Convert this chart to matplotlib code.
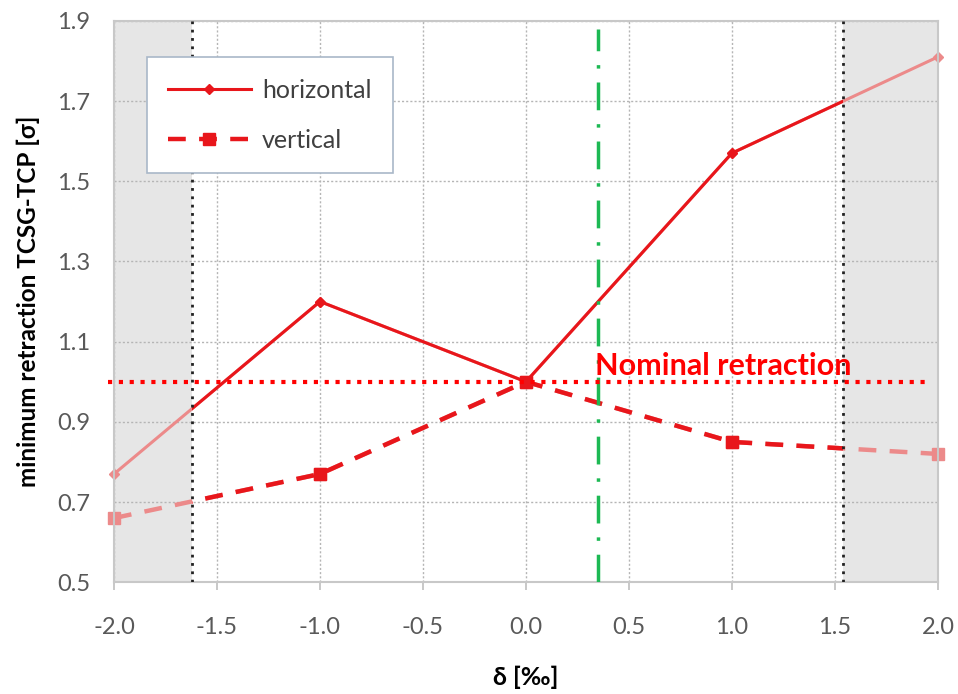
import matplotlib
matplotlib.use("Agg")
import matplotlib.pyplot as plt
from matplotlib.patches import Rectangle
from matplotlib.lines import Line2D

plt.rcParams['font.family'] = ['Lato', 'DejaVu Sans']

# momentum offset [per mille]
delta = [-2.0, -1.0, 0.0, 1.0, 2.0]
horizontal = [0.77, 1.20, 1.00, 1.57, 1.81]
vertical = [0.66, 0.77, 1.00, 0.85, 0.82]

# acceptance limits and working point
delta_min, delta_max = -1.62, 1.54
delta_op = 0.35
nominal = 1.0

xticks = [-2.0, -1.5, -1.0, -0.5, 0.0, 0.5, 1.0, 1.5, 2.0]
yticks = [0.5, 0.7, 0.9, 1.1, 1.3, 1.5, 1.7, 1.9]

fig = plt.figure(figsize=(9.58, 6.94), dpi=100)
ax = fig.add_axes([0.119, 0.161, 0.860, 0.809])
ax.set_xlim(-2.0, 2.0)
ax.set_ylim(0.5, 1.9)

# regions outside the acceptance
ax.axvspan(-2.0, delta_min, color='#e6e6e6', zorder=0, lw=0)
ax.axvspan(delta_max, 2.0, color='#e6e6e6', zorder=0, lw=0)

ax.set_xticks(xticks)
ax.set_yticks(yticks)
ax.set_xticklabels([f"{v:.1f}" for v in xticks])
ax.set_yticklabels([f"{v:.1f}" for v in yticks])
ax.grid(True, color='#b5b5b5', linestyle=(0, (1.5, 1.5)), linewidth=1.0, zorder=0.5)
ax.tick_params(axis='x', colors='#bfbfbf', length=6, width=1.2, labelcolor='#595959',
               labelsize=17, pad=19)
ax.tick_params(axis='y', length=0, labelcolor='#595959', labelsize=17, pad=17)
for s in ax.spines.values():
    s.set_color('#c8c8c8')
    s.set_linewidth(1.5)

red = '#e8161b'
pale = '#ec8a8a'

# full curves drawn faint, then the in-acceptance part in full colour
ax.plot(delta, horizontal, color=pale, lw=2.2, marker='D', ms=5, zorder=2, clip_on=False)
ax.plot(delta, vertical, color=pale, lw=3.2, ls=(0, (4, 3)), marker='s', ms=8, zorder=2,
        clip_on=False)
clip = Rectangle((delta_min, 0.5), delta_max - delta_min, 1.4, transform=ax.transData)
h_line, = ax.plot(delta, horizontal, color=red, lw=2.2, marker='D', ms=5, zorder=3)
v_line, = ax.plot(delta, vertical, color=red, lw=3.2, ls=(0, (4, 3)), marker='s', ms=8,
                  zorder=3)
h_line.set_clip_path(clip)
v_line.set_clip_path(clip)

ax.axvline(delta_min, color='#222222', ls=(0, (1, 2)), lw=2.0, zorder=4)
ax.axvline(delta_max, color='#222222', ls=(0, (1, 2)), lw=2.0, zorder=4)
ax.plot([delta_op, delta_op], [0.5, 1.88], color='#1db954', lw=2.5,
        ls=(0, (8, 4, 1, 4)), zorder=4)

ax.plot([-2.03, 1.95], [nominal, nominal], color='#ff0000', lw=3, ls=(0, (1, 1.6)),
        zorder=5, clip_on=False)
ax.text(0.335, 1.018, 'Nominal retraction', color='#ff0000', fontsize=22,
        fontweight='bold', ha='left', va='baseline', zorder=6)

ax.set_xlabel('δ [‰]', fontsize=18, fontweight='bold', labelpad=20)
ax.set_ylabel('minimum retraction TCSG-TCP [σ]', fontsize=17.5, fontweight='bold',
              labelpad=12)

handles = [Line2D([], [], color=red, lw=2.2, marker='D', ms=5),
           Line2D([], [], color=red, lw=3.2, ls=(0, (4, 3)), marker='s', ms=8)]
leg = ax.legend(handles, ['horizontal', 'vertical'], loc='upper left',
                bbox_to_anchor=(0.04, 0.935), fontsize=18, handlelength=3.3,
                borderpad=0.85, labelspacing=1.1, fancybox=False, framealpha=1,
                edgecolor='#a9b8c8', handletextpad=0.45, borderaxespad=0)
leg.get_frame().set_linewidth(1.2)
for t in leg.get_texts():
    t.set_color('#404040')
leg.set_zorder(7)

fig.savefig('out.png', dpi=100)
